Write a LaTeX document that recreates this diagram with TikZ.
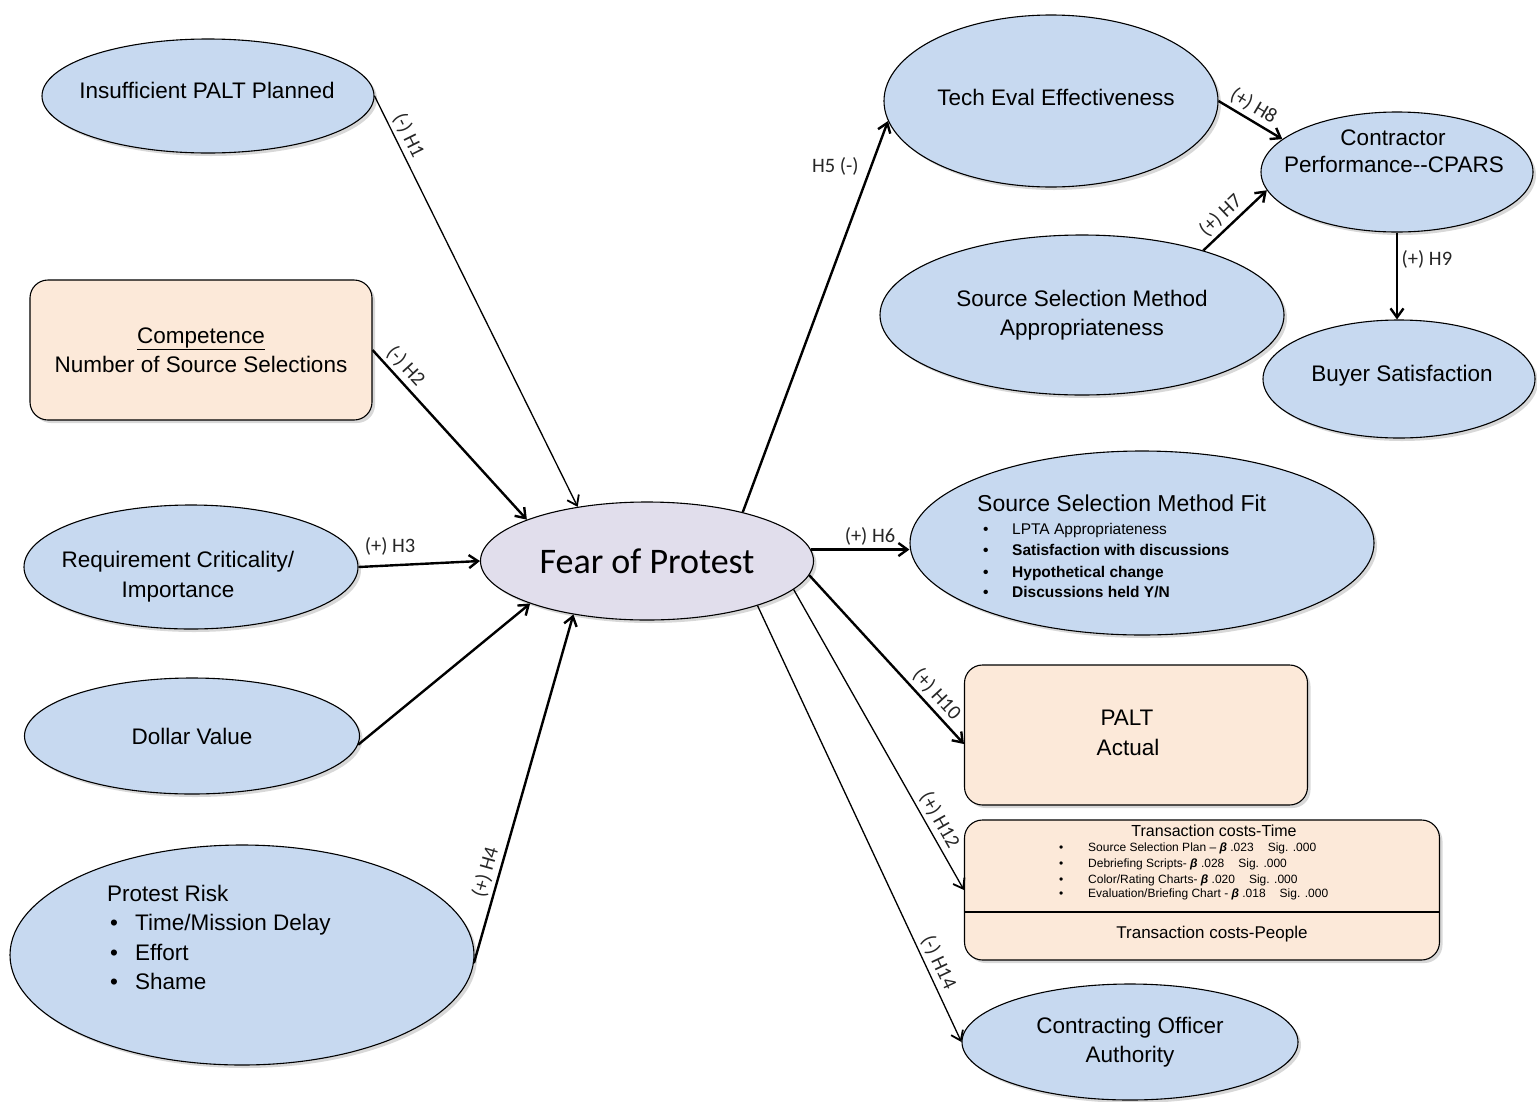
\documentclass[tikz,border=0pt]{standalone}
\usepackage{fontspec}
\setmainfont{Liberation Sans}
\newfontfamily\calfont{Carlito}
\usetikzlibrary{shapes.geometric,arrows.meta,shadows,calc}
\definecolor{ellblue}{RGB}{199,217,240}
\definecolor{boxpeach}{RGB}{252,233,217}
\definecolor{fearfill}{RGB}{225,222,236}
\newcommand\mainsz{\fontsize{22.5}{29.5}\selectfont}
\newcommand\blt[1]{\makebox[#1][l]{\hspace{3pt}•}}
\begin{document}
\begin{tikzpicture}[x=1pt,y=-1pt,
  shapebase/.style={draw=black, line width=1.1pt,
    drop shadow={shadow xshift=3pt, shadow yshift=-3pt, fill=black!30, opacity=0.5}},
  ellnode/.style={shapebase, ellipse, fill=ellblue, inner sep=0pt, align=center, font=\mainsz},
  fearnode/.style={shapebase, ellipse, fill=fearfill, inner sep=0pt, font=\calfont\fontsize{36}{40}\selectfont},
  roundbox/.style={shapebase, rectangle, rounded corners=18pt, fill=boxpeach, inner sep=0pt, align=center, font=\mainsz},
  txt/.style={inner sep=0pt, anchor=base west},
  ctxt/.style={inner sep=0pt, anchor=base},
  lbl/.style={font=\calfont\fontsize{20.5}{24}\selectfont, inner sep=3.5pt, text=black!85},
  thickarr/.style={line width=2.4pt, -{Straight Barb[length=9pt,width=13pt]}},
  thinarr/.style={line width=1.3pt, -{Straight Barb[length=9pt,width=13pt,line width=1.8pt]}},
]
\useasboundingbox (0,0) rectangle (1537,1101);

% ---------- left side ----------
\node[ellnode, minimum width=332pt, minimum height=114pt] (ins) at (208,96) {};
\node[ctxt, font=\mainsz] (inst) at (207,98) {Insufficient PALT Planned};
\node[roundbox, minimum width=342pt, minimum height=140pt] (comp) at (201,350) {\underline{Competence}\\Number of Source Selections};
\node[ellnode, minimum width=334pt, minimum height=124pt] (req) at (191,567) {};
\node[ctxt, font=\mainsz] (reqt1) at (178,567) {Requirement Criticality/};
\node[ctxt, font=\mainsz] (reqt2) at (178,597) {Importance};
\node[ellnode, minimum width=335pt, minimum height=116pt] (dv) at (192,736) {Dollar Value};
\node[ellnode, minimum width=464pt, minimum height=220pt] (pr) at (242,955) {};
\node[txt, font=\mainsz] (prt) at (107,901) {Protest Risk};
\node[txt, font=\mainsz] (pr1) at (107,930) {\blt{28pt}Time/Mission Delay};
\node[txt, font=\mainsz] (pr2) at (107,960) {\blt{28pt}Effort};
\node[txt, font=\mainsz] (pr3) at (107,989) {\blt{28pt}Shame};

% ---------- centre ----------
\node[fearnode, minimum width=333pt, minimum height=118pt] (fear) at (647,561) {Fear of Protest};

% ---------- right side ----------
\node[ellnode, minimum width=334pt, minimum height=172pt] (tech) at (1051,101) {};
\node[ctxt, font=\mainsz] (techt) at (1056,105) {Tech Eval Effectiveness};
\node[ellnode, minimum width=272pt, minimum height=120pt] (cpars) at (1397,172) {};
\node[ctxt, font=\mainsz] (cparst1) at (1393,145) {Contractor};
\node[ctxt, font=\mainsz] (cparst2) at (1394,172) {Performance-{}-CPARS};
\node[ellnode, minimum width=404pt, minimum height=160pt] (ssma) at (1082,315) {Source Selection Method\\Appropriateness};
\node[ellnode, minimum width=272pt, minimum height=118pt] (buyer) at (1399,379) {};
\node[ctxt, font=\mainsz] (buyert) at (1402,381) {Buyer Satisfaction};
\node[ellnode, minimum width=464pt, minimum height=184pt] (fit) at (1142,543) {};
\node[txt, font=\fontsize{23}{28}\selectfont] (fitt) at (977,511) {Source Selection Method Fit};
\node[txt, font=\fontsize{15.5}{20}\selectfont] (fit1) at (980,534) {\blt{32pt}LPTA Appropriateness};
\node[txt, font=\fontsize{15.5}{20}\selectfont\bfseries] (fit2) at (980,555) {\blt{32pt}Satisfaction with discussions};
\node[txt, font=\fontsize{15.5}{20}\selectfont\bfseries] (fit3) at (980,577) {\blt{32pt}Hypothetical change};
\node[txt, font=\fontsize{15.5}{20}\selectfont\bfseries] (fit4) at (980,597) {\blt{32pt}Discussions held Y/N};

\node[roundbox, minimum width=343pt, minimum height=140pt] (palt) at (1136,735) {};
\node[ctxt, font=\mainsz] (paltt1) at (1127,725) {PALT};
\node[ctxt, font=\mainsz] (paltt2) at (1128,755) {Actual};

\node[roundbox, minimum width=475pt, minimum height=140pt] (tc) at (1202,890) {};
\coordinate (tcline) at (1202,912);
\draw[line width=2pt] (tc.west |- tcline) -- (tc.east |- tcline);
\node[ctxt, font=\fontsize{16}{19}\selectfont] (tct) at (1214,836) {Transaction costs-Time};
\node[txt, font=\fontsize{12}{14}\selectfont] (tc1) at (1056,851) {\blt{32pt}Source Selection Plan -- \textbf{\textit{β}} .023\hspace{14pt}Sig. .000};
\node[txt, font=\fontsize{12}{14}\selectfont] (tc2) at (1056,867) {\blt{32pt}Debriefing Scripts- \textbf{\textit{β}} .028\hspace{14pt}Sig. .000};
\node[txt, font=\fontsize{12}{14}\selectfont] (tc3) at (1056,883) {\blt{32pt}Color/Rating Charts- \textbf{\textit{β}} .020\hspace{14pt}Sig. .000};
\node[txt, font=\fontsize{12}{14}\selectfont] (tc4) at (1056,897) {\blt{32pt}Evaluation/Briefing Chart - \textbf{\textit{β}} .018\hspace{14pt}Sig. .000};
\node[ctxt, font=\fontsize{17}{20}\selectfont] (tcp) at (1212,938) {Transaction costs-People};

\node[ellnode, minimum width=336pt, minimum height=116pt] (coa) at (1130,1042) {Contracting Officer\\Authority};

% ---------- connectors ----------
\draw[thinarr] (ins.east) -- node[lbl, sloped, above, pos=0.11] {(-) H1} (fear.142);
\draw[thickarr] (comp.east) -- node[lbl, sloped, above, pos=0.15] {(-) H2} (fear.161);
\draw[thickarr] (req.east) -- node[lbl, above=5pt, pos=0.26] {(+) H3} (fear.west);
\draw[thickarr] (dv.-3) -- (fear.200);
\draw[thickarr] (pr.-2) -- node[lbl, sloped, above, pos=0.25] {(+) H4} (fear.216);
\draw[thickarr] (fear.27) -- node[lbl, left=8pt, pos=0.885] {H5 (-)} (tech.187);
\draw[thickarr] (fear.4) -- node[lbl, above, pos=0.6] {(+) H6} (fear.4 -| fit.west);
\draw[thickarr] (fear.-5) -- node[lbl, sloped, above, pos=0.76] {(+) H10} (palt.183);
\draw[thinarr] (fear.-11) -- node[lbl, sloped, above, pos=0.79] {(+) H12} (tc.west);
\draw[thinarr] (fear.-22) -- node[lbl, sloped, above, pos=0.83] {(-) H14} (coa.west);
\draw[thickarr] (tech.east) -- node[lbl, sloped, above, pos=0.44] {(+) H8} (cpars.164);
\draw[thickarr] (ssma.28) -- node[lbl, sloped, above, pos=0.42] {(+) H7} (cpars.188);
\draw[thickarr] (cpars.south) -- node[lbl, right, pos=0.31] {(+) H9} (cpars.south |- buyer.north);
\end{tikzpicture}
\end{document}
